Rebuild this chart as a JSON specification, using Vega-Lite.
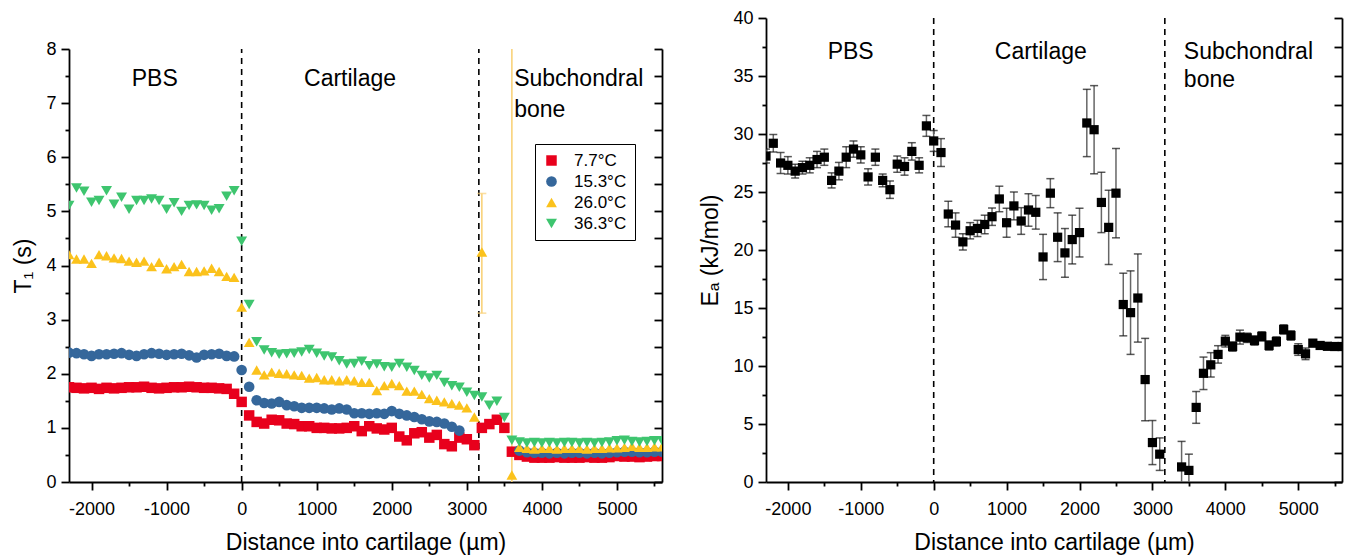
{
  "$schema": "https://vega.github.io/schema/vega-lite/v6.json",
  "background": "white",
  "padding": {"left": 12, "top": 9, "right": 5, "bottom": 5},
  "spacing": 36,
  "config": {
    "font": "Liberation Sans",
    "view": {"stroke": null},
    "axis": {"domainColor": "#000", "domainWidth": 1.8, "tickColor": "#000", "tickWidth": 1.8, "labelColor": "#000", "labelFontSize": 18, "titleFontSize": 23, "titleFontWeight": "normal", "titleColor": "#000", "grid": false, "labelOverlap": false, "labelFlush": false},
    "text": {"font": "Liberation Sans"}
  },
  "datasets": {
    "t1": [
      {"x":-2300,"s":"7.7°C","T1":1.75},{"x":-2200,"s":"7.7°C","T1":1.74},{"x":-2100,"s":"7.7°C","T1":1.73},{"x":-2000,"s":"7.7°C","T1":1.74},{"x":-1900,"s":"7.7°C","T1":1.72},{"x":-1800,"s":"7.7°C","T1":1.74},{"x":-1700,"s":"7.7°C","T1":1.73},{"x":-1600,"s":"7.7°C","T1":1.74},{"x":-1500,"s":"7.7°C","T1":1.75},{"x":-1400,"s":"7.7°C","T1":1.75},{"x":-1300,"s":"7.7°C","T1":1.76},{"x":-1200,"s":"7.7°C","T1":1.74},{"x":-1100,"s":"7.7°C","T1":1.73},{"x":-1000,"s":"7.7°C","T1":1.74},{"x":-900,"s":"7.7°C","T1":1.75},{"x":-800,"s":"7.7°C","T1":1.75},{"x":-700,"s":"7.7°C","T1":1.76},{"x":-600,"s":"7.7°C","T1":1.75},{"x":-500,"s":"7.7°C","T1":1.74},{"x":-400,"s":"7.7°C","T1":1.74},{"x":-300,"s":"7.7°C","T1":1.73},{"x":-200,"s":"7.7°C","T1":1.72},{"x":-100,"s":"7.7°C","T1":1.63},
      {"x":0,"s":"7.7°C","T1":1.48},{"x":100,"s":"7.7°C","T1":1.23},{"x":200,"s":"7.7°C","T1":1.11},{"x":300,"s":"7.7°C","T1":1.08},{"x":400,"s":"7.7°C","T1":1.15},{"x":500,"s":"7.7°C","T1":1.14},{"x":600,"s":"7.7°C","T1":1.08},{"x":700,"s":"7.7°C","T1":1.07},{"x":800,"s":"7.7°C","T1":1.03},{"x":900,"s":"7.7°C","T1":1.03},{"x":1000,"s":"7.7°C","T1":1.0},{"x":1100,"s":"7.7°C","T1":1.0},{"x":1200,"s":"7.7°C","T1":0.99},{"x":1300,"s":"7.7°C","T1":0.99},{"x":1400,"s":"7.7°C","T1":1.0},{"x":1500,"s":"7.7°C","T1":1.03},{"x":1600,"s":"7.7°C","T1":0.94},{"x":1700,"s":"7.7°C","T1":1.03},{"x":1800,"s":"7.7°C","T1":0.99},{"x":1900,"s":"7.7°C","T1":0.97},{"x":2000,"s":"7.7°C","T1":1.0},{"x":2100,"s":"7.7°C","T1":0.84},{"x":2200,"s":"7.7°C","T1":0.77},{"x":2300,"s":"7.7°C","T1":0.9},{"x":2400,"s":"7.7°C","T1":0.92},{"x":2500,"s":"7.7°C","T1":0.82},{"x":2600,"s":"7.7°C","T1":0.87},{"x":2700,"s":"7.7°C","T1":0.7},{"x":2800,"s":"7.7°C","T1":0.66},{"x":2900,"s":"7.7°C","T1":0.82},{"x":3000,"s":"7.7°C","T1":0.79},{"x":3100,"s":"7.7°C","T1":0.68},{"x":3200,"s":"7.7°C","T1":1.0},{"x":3300,"s":"7.7°C","T1":1.07},{"x":3400,"s":"7.7°C","T1":1.15},{"x":3500,"s":"7.7°C","T1":1.0},{"x":3600,"s":"7.7°C","T1":0.56},
      {"x":3700,"s":"7.7°C","T1":0.5},{"x":3800,"s":"7.7°C","T1":0.47},{"x":3900,"s":"7.7°C","T1":0.45},{"x":4000,"s":"7.7°C","T1":0.45},{"x":4100,"s":"7.7°C","T1":0.45},{"x":4200,"s":"7.7°C","T1":0.46},{"x":4300,"s":"7.7°C","T1":0.45},{"x":4400,"s":"7.7°C","T1":0.45},{"x":4500,"s":"7.7°C","T1":0.45},{"x":4600,"s":"7.7°C","T1":0.46},{"x":4700,"s":"7.7°C","T1":0.45},{"x":4800,"s":"7.7°C","T1":0.45},{"x":4900,"s":"7.7°C","T1":0.46},{"x":5000,"s":"7.7°C","T1":0.48},{"x":5100,"s":"7.7°C","T1":0.47},{"x":5200,"s":"7.7°C","T1":0.47},{"x":5300,"s":"7.7°C","T1":0.46},{"x":5400,"s":"7.7°C","T1":0.47},{"x":5500,"s":"7.7°C","T1":0.48},{"x":5600,"s":"7.7°C","T1":0.48},

      {"x":-2300,"s":"15.3°C","T1":2.39},{"x":-2200,"s":"15.3°C","T1":2.38},{"x":-2100,"s":"15.3°C","T1":2.36},{"x":-2000,"s":"15.3°C","T1":2.33},{"x":-1900,"s":"15.3°C","T1":2.36},{"x":-1800,"s":"15.3°C","T1":2.36},{"x":-1700,"s":"15.3°C","T1":2.37},{"x":-1600,"s":"15.3°C","T1":2.38},{"x":-1500,"s":"15.3°C","T1":2.35},{"x":-1400,"s":"15.3°C","T1":2.33},{"x":-1300,"s":"15.3°C","T1":2.36},{"x":-1200,"s":"15.3°C","T1":2.38},{"x":-1100,"s":"15.3°C","T1":2.37},{"x":-1000,"s":"15.3°C","T1":2.35},{"x":-900,"s":"15.3°C","T1":2.36},{"x":-800,"s":"15.3°C","T1":2.37},{"x":-700,"s":"15.3°C","T1":2.34},{"x":-600,"s":"15.3°C","T1":2.3},{"x":-500,"s":"15.3°C","T1":2.35},{"x":-400,"s":"15.3°C","T1":2.36},{"x":-300,"s":"15.3°C","T1":2.37},{"x":-200,"s":"15.3°C","T1":2.33},{"x":-100,"s":"15.3°C","T1":2.32},
      {"x":0,"s":"15.3°C","T1":2.07},{"x":100,"s":"15.3°C","T1":1.76},{"x":200,"s":"15.3°C","T1":1.51},{"x":300,"s":"15.3°C","T1":1.46},{"x":400,"s":"15.3°C","T1":1.45},{"x":500,"s":"15.3°C","T1":1.48},{"x":600,"s":"15.3°C","T1":1.42},{"x":700,"s":"15.3°C","T1":1.4},{"x":800,"s":"15.3°C","T1":1.37},{"x":900,"s":"15.3°C","T1":1.37},{"x":1000,"s":"15.3°C","T1":1.37},{"x":1100,"s":"15.3°C","T1":1.36},{"x":1200,"s":"15.3°C","T1":1.34},{"x":1300,"s":"15.3°C","T1":1.36},{"x":1400,"s":"15.3°C","T1":1.34},{"x":1500,"s":"15.3°C","T1":1.27},{"x":1600,"s":"15.3°C","T1":1.27},{"x":1700,"s":"15.3°C","T1":1.26},{"x":1800,"s":"15.3°C","T1":1.27},{"x":1900,"s":"15.3°C","T1":1.26},{"x":2000,"s":"15.3°C","T1":1.31},{"x":2100,"s":"15.3°C","T1":1.26},{"x":2200,"s":"15.3°C","T1":1.23},{"x":2300,"s":"15.3°C","T1":1.2},{"x":2400,"s":"15.3°C","T1":1.16},{"x":2500,"s":"15.3°C","T1":1.12},{"x":2600,"s":"15.3°C","T1":1.11},{"x":2700,"s":"15.3°C","T1":1.08},{"x":2800,"s":"15.3°C","T1":1.02},{"x":2900,"s":"15.3°C","T1":0.95},
      {"x":3700,"s":"15.3°C","T1":0.58},{"x":3800,"s":"15.3°C","T1":0.55},{"x":3900,"s":"15.3°C","T1":0.54},{"x":4000,"s":"15.3°C","T1":0.54},{"x":4100,"s":"15.3°C","T1":0.53},{"x":4200,"s":"15.3°C","T1":0.54},{"x":4300,"s":"15.3°C","T1":0.53},{"x":4400,"s":"15.3°C","T1":0.54},{"x":4500,"s":"15.3°C","T1":0.54},{"x":4600,"s":"15.3°C","T1":0.53},{"x":4700,"s":"15.3°C","T1":0.54},{"x":4800,"s":"15.3°C","T1":0.53},{"x":4900,"s":"15.3°C","T1":0.54},{"x":5000,"s":"15.3°C","T1":0.55},{"x":5100,"s":"15.3°C","T1":0.56},{"x":5200,"s":"15.3°C","T1":0.56},{"x":5300,"s":"15.3°C","T1":0.55},{"x":5400,"s":"15.3°C","T1":0.55},{"x":5500,"s":"15.3°C","T1":0.56},{"x":5600,"s":"15.3°C","T1":0.56},

      {"x":-2300,"s":"26.0°C","T1":4.2},{"x":-2200,"s":"26.0°C","T1":4.12},{"x":-2100,"s":"26.0°C","T1":4.12},{"x":-2000,"s":"26.0°C","T1":4.04},{"x":-1900,"s":"26.0°C","T1":4.2},{"x":-1800,"s":"26.0°C","T1":4.18},{"x":-1700,"s":"26.0°C","T1":4.14},{"x":-1600,"s":"26.0°C","T1":4.13},{"x":-1500,"s":"26.0°C","T1":4.08},{"x":-1400,"s":"26.0°C","T1":4.06},{"x":-1300,"s":"26.0°C","T1":4.08},{"x":-1200,"s":"26.0°C","T1":3.98},{"x":-1100,"s":"26.0°C","T1":4.06},{"x":-1000,"s":"26.0°C","T1":3.94},{"x":-900,"s":"26.0°C","T1":3.98},{"x":-800,"s":"26.0°C","T1":4.02},{"x":-700,"s":"26.0°C","T1":3.89},{"x":-600,"s":"26.0°C","T1":3.89},{"x":-500,"s":"26.0°C","T1":3.9},{"x":-400,"s":"26.0°C","T1":3.95},{"x":-300,"s":"26.0°C","T1":3.89},{"x":-200,"s":"26.0°C","T1":3.8},{"x":-100,"s":"26.0°C","T1":3.78},
      {"x":0,"s":"26.0°C","T1":3.23},{"x":100,"s":"26.0°C","T1":2.58},{"x":200,"s":"26.0°C","T1":2.07},{"x":300,"s":"26.0°C","T1":1.98},{"x":400,"s":"26.0°C","T1":2.03},{"x":500,"s":"26.0°C","T1":2.01},{"x":600,"s":"26.0°C","T1":2.0},{"x":700,"s":"26.0°C","T1":1.98},{"x":800,"s":"26.0°C","T1":1.97},{"x":900,"s":"26.0°C","T1":1.92},{"x":1000,"s":"26.0°C","T1":1.93},{"x":1100,"s":"26.0°C","T1":1.89},{"x":1200,"s":"26.0°C","T1":1.89},{"x":1300,"s":"26.0°C","T1":1.87},{"x":1400,"s":"26.0°C","T1":1.89},{"x":1500,"s":"26.0°C","T1":1.87},{"x":1600,"s":"26.0°C","T1":1.84},{"x":1700,"s":"26.0°C","T1":1.84},{"x":1800,"s":"26.0°C","T1":1.69},{"x":1900,"s":"26.0°C","T1":1.78},{"x":2000,"s":"26.0°C","T1":1.82},{"x":2100,"s":"26.0°C","T1":1.78},{"x":2200,"s":"26.0°C","T1":1.68},{"x":2300,"s":"26.0°C","T1":1.68},{"x":2400,"s":"26.0°C","T1":1.62},{"x":2500,"s":"26.0°C","T1":1.54},{"x":2600,"s":"26.0°C","T1":1.51},{"x":2700,"s":"26.0°C","T1":1.48},{"x":2800,"s":"26.0°C","T1":1.45},{"x":2900,"s":"26.0°C","T1":1.42},{"x":3000,"s":"26.0°C","T1":1.37},{"x":3100,"s":"26.0°C","T1":1.2},{"x":3200,"s":"26.0°C","T1":4.25},{"x":3600,"s":"26.0°C","T1":0.13},
      {"x":3700,"s":"26.0°C","T1":0.64},{"x":3800,"s":"26.0°C","T1":0.62},{"x":3900,"s":"26.0°C","T1":0.61},{"x":4000,"s":"26.0°C","T1":0.62},{"x":4100,"s":"26.0°C","T1":0.62},{"x":4200,"s":"26.0°C","T1":0.61},{"x":4300,"s":"26.0°C","T1":0.62},{"x":4400,"s":"26.0°C","T1":0.62},{"x":4500,"s":"26.0°C","T1":0.62},{"x":4600,"s":"26.0°C","T1":0.61},{"x":4700,"s":"26.0°C","T1":0.62},{"x":4800,"s":"26.0°C","T1":0.62},{"x":4900,"s":"26.0°C","T1":0.63},{"x":5000,"s":"26.0°C","T1":0.63},{"x":5100,"s":"26.0°C","T1":0.64},{"x":5200,"s":"26.0°C","T1":0.66},{"x":5300,"s":"26.0°C","T1":0.64},{"x":5400,"s":"26.0°C","T1":0.64},{"x":5500,"s":"26.0°C","T1":0.65},{"x":5600,"s":"26.0°C","T1":0.65},

      {"x":-2300,"s":"36.3°C","T1":5.11},{"x":-2200,"s":"36.3°C","T1":5.43},{"x":-2100,"s":"36.3°C","T1":5.37},{"x":-2000,"s":"36.3°C","T1":5.17},{"x":-1900,"s":"36.3°C","T1":5.2},{"x":-1800,"s":"36.3°C","T1":5.38},{"x":-1700,"s":"36.3°C","T1":5.13},{"x":-1600,"s":"36.3°C","T1":5.26},{"x":-1500,"s":"36.3°C","T1":5.04},{"x":-1400,"s":"36.3°C","T1":5.2},{"x":-1300,"s":"36.3°C","T1":5.2},{"x":-1200,"s":"36.3°C","T1":5.23},{"x":-1100,"s":"36.3°C","T1":5.2},{"x":-1000,"s":"36.3°C","T1":5.04},{"x":-900,"s":"36.3°C","T1":5.16},{"x":-800,"s":"36.3°C","T1":5.0},{"x":-700,"s":"36.3°C","T1":5.11},{"x":-600,"s":"36.3°C","T1":5.12},{"x":-500,"s":"36.3°C","T1":5.11},{"x":-400,"s":"36.3°C","T1":5.02},{"x":-300,"s":"36.3°C","T1":5.05},{"x":-200,"s":"36.3°C","T1":5.28},{"x":-100,"s":"36.3°C","T1":5.38},
      {"x":0,"s":"36.3°C","T1":4.45},{"x":100,"s":"36.3°C","T1":3.28},{"x":200,"s":"36.3°C","T1":2.59},{"x":300,"s":"36.3°C","T1":2.44},{"x":400,"s":"36.3°C","T1":2.39},{"x":500,"s":"36.3°C","T1":2.36},{"x":600,"s":"36.3°C","T1":2.37},{"x":700,"s":"36.3°C","T1":2.38},{"x":800,"s":"36.3°C","T1":2.4},{"x":900,"s":"36.3°C","T1":2.45},{"x":1000,"s":"36.3°C","T1":2.38},{"x":1100,"s":"36.3°C","T1":2.33},{"x":1200,"s":"36.3°C","T1":2.31},{"x":1300,"s":"36.3°C","T1":2.24},{"x":1400,"s":"36.3°C","T1":2.18},{"x":1500,"s":"36.3°C","T1":2.19},{"x":1600,"s":"36.3°C","T1":2.23},{"x":1700,"s":"36.3°C","T1":2.15},{"x":1800,"s":"36.3°C","T1":2.18},{"x":1900,"s":"36.3°C","T1":2.13},{"x":2000,"s":"36.3°C","T1":2.12},{"x":2100,"s":"36.3°C","T1":2.19},{"x":2200,"s":"36.3°C","T1":2.12},{"x":2300,"s":"36.3°C","T1":2.06},{"x":2400,"s":"36.3°C","T1":1.97},{"x":2500,"s":"36.3°C","T1":1.92},{"x":2600,"s":"36.3°C","T1":1.97},{"x":2700,"s":"36.3°C","T1":1.84},{"x":2800,"s":"36.3°C","T1":1.78},{"x":2900,"s":"36.3°C","T1":1.75},{"x":3000,"s":"36.3°C","T1":1.66},{"x":3100,"s":"36.3°C","T1":1.6},{"x":3200,"s":"36.3°C","T1":1.57},{"x":3300,"s":"36.3°C","T1":1.42},{"x":3400,"s":"36.3°C","T1":1.49},{"x":3500,"s":"36.3°C","T1":1.19},{"x":3600,"s":"36.3°C","T1":0.77},
      {"x":3700,"s":"36.3°C","T1":0.74},{"x":3800,"s":"36.3°C","T1":0.72},{"x":3900,"s":"36.3°C","T1":0.73},{"x":4000,"s":"36.3°C","T1":0.72},{"x":4100,"s":"36.3°C","T1":0.73},{"x":4200,"s":"36.3°C","T1":0.72},{"x":4300,"s":"36.3°C","T1":0.73},{"x":4400,"s":"36.3°C","T1":0.73},{"x":4500,"s":"36.3°C","T1":0.72},{"x":4600,"s":"36.3°C","T1":0.73},{"x":4700,"s":"36.3°C","T1":0.72},{"x":4800,"s":"36.3°C","T1":0.73},{"x":4900,"s":"36.3°C","T1":0.74},{"x":5000,"s":"36.3°C","T1":0.76},{"x":5100,"s":"36.3°C","T1":0.77},{"x":5200,"s":"36.3°C","T1":0.75},{"x":5300,"s":"36.3°C","T1":0.74},{"x":5400,"s":"36.3°C","T1":0.75},{"x":5500,"s":"36.3°C","T1":0.76},{"x":5600,"s":"36.3°C","T1":0.76}
    ],
    "yerr": [{"x":3200,"lo":3.12,"hi":5.33},{"x":3600,"lo":0,"hi":8}],
    "ycap": [{"x":3200,"y":3.12},{"x":3200,"y":5.33}],
    "bounds1": [{"x":0},{"x":3160}],
    "bounds2": [{"x":0},{"x":3170}],
    "lab1c": [{"x":-1157,"y":7.45,"label":"PBS"},{"x":1444,"y":7.45,"label":"Cartilage"}],
    "lab1l": [{"x":3630,"y":7.45,"label":"Subchondral"},{"x":3630,"y":6.88,"label":"bone"}],
    "lab2c": [{"x":-1139,"y":37.1,"label":"PBS"},{"x":1469,"y":37.1,"label":"Cartilage"}],
    "lab2l": [{"x":3431,"y":37.1,"label":"Subchondral"},{"x":3431,"y":34.65,"label":"bone"}],
    "ea": [
      {"x":-2300,"E":28.1,"lo":27.5,"hi":28.7},{"x":-2200,"E":29.2,"lo":28.45,"hi":29.95},{"x":-2100,"E":27.5,"lo":26.6,"hi":28.4},{"x":-2000,"E":27.3,"lo":26.55,"hi":28.05},{"x":-1900,"E":26.8,"lo":26.2,"hi":27.4},{"x":-1800,"E":27.1,"lo":26.55,"hi":27.65},{"x":-1700,"E":27.3,"lo":26.65,"hi":27.95},{"x":-1600,"E":27.8,"lo":27.1,"hi":28.5},{"x":-1500,"E":28.0,"lo":27.3,"hi":28.7},{"x":-1400,"E":26.0,"lo":25.35,"hi":26.65},{"x":-1300,"E":26.8,"lo":26.05,"hi":27.55},{"x":-1200,"E":28.0,"lo":27.1,"hi":28.9},{"x":-1100,"E":28.7,"lo":28.0,"hi":29.4},{"x":-1000,"E":28.2,"lo":27.5,"hi":28.9},{"x":-900,"E":26.3,"lo":25.6,"hi":27.0},{"x":-800,"E":28.0,"lo":27.3,"hi":28.7},{"x":-700,"E":26.0,"lo":25.45,"hi":26.55},{"x":-600,"E":25.2,"lo":24.45,"hi":25.95},{"x":-500,"E":27.4,"lo":26.7,"hi":28.1},{"x":-400,"E":27.2,"lo":26.45,"hi":27.95},{"x":-300,"E":28.5,"lo":27.75,"hi":29.25},{"x":-200,"E":27.3,"lo":26.65,"hi":27.95},{"x":-100,"E":30.7,"lo":29.8,"hi":31.6},
      {"x":0,"E":29.4,"lo":28.5,"hi":30.3},{"x":100,"E":28.4,"lo":27.2,"hi":29.6},{"x":200,"E":23.1,"lo":22.0,"hi":24.2},{"x":300,"E":22.15,"lo":21.1,"hi":23.2},{"x":400,"E":20.7,"lo":20.0,"hi":21.4},{"x":500,"E":21.66,"lo":20.96,"hi":22.36},{"x":600,"E":21.86,"lo":21.16,"hi":22.56},{"x":700,"E":22.2,"lo":21.4,"hi":23.0},{"x":800,"E":22.87,"lo":22.12,"hi":23.62},{"x":900,"E":24.4,"lo":23.3,"hi":25.5},{"x":1000,"E":22.35,"lo":21.1,"hi":23.6},{"x":1100,"E":23.8,"lo":22.6,"hi":25.0},{"x":1200,"E":22.5,"lo":21.35,"hi":23.65},{"x":1300,"E":23.45,"lo":22.05,"hi":24.85},{"x":1400,"E":23.25,"lo":21.8,"hi":24.7},{"x":1500,"E":19.4,"lo":17.45,"hi":21.35},{"x":1600,"E":24.9,"lo":23.65,"hi":26.15},{"x":1700,"E":21.1,"lo":19.0,"hi":23.2},{"x":1800,"E":19.75,"lo":17.65,"hi":21.85},{"x":1900,"E":20.9,"lo":18.8,"hi":23.0},{"x":2000,"E":21.5,"lo":19.4,"hi":23.6},{"x":2100,"E":30.95,"lo":28.05,"hi":33.85},{"x":2200,"E":30.37,"lo":26.57,"hi":34.17},{"x":2300,"E":24.1,"lo":21.5,"hi":26.7},{"x":2400,"E":21.95,"lo":18.75,"hi":25.15},{"x":2500,"E":24.9,"lo":21.05,"hi":28.75},{"x":2600,"E":15.3,"lo":12.6,"hi":18.0},{"x":2700,"E":14.6,"lo":11.0,"hi":18.2},{"x":2800,"E":15.86,"lo":12.06,"hi":19.66},{"x":2900,"E":8.83,"lo":5.28,"hi":12.38},{"x":3000,"E":3.4,"lo":1.5,"hi":5.3},{"x":3100,"E":2.4,"lo":1.0,"hi":3.8},
      {"x":3400,"E":1.3,"lo":-0.9,"hi":3.5},{"x":3500,"E":1.0,"lo":-0.4,"hi":2.4},{"x":3600,"E":6.43,"lo":5.06,"hi":7.8},{"x":3700,"E":9.37,"lo":7.97,"hi":10.77},{"x":3800,"E":10.1,"lo":9.05,"hi":11.15},{"x":3900,"E":11.0,"lo":10.25,"hi":11.75},{"x":4000,"E":12.14,"lo":11.64,"hi":12.64},{"x":4100,"E":11.68,"lo":11.28,"hi":12.08},{"x":4200,"E":12.49,"lo":11.89,"hi":13.09},{"x":4300,"E":12.43,"lo":12.03,"hi":12.83},{"x":4400,"E":12.2,"lo":11.8,"hi":12.6},{"x":4500,"E":12.55,"lo":12.15,"hi":12.95},{"x":4600,"E":11.77,"lo":11.37,"hi":12.17},{"x":4700,"E":12.11,"lo":11.71,"hi":12.51},{"x":4800,"E":13.15,"lo":12.75,"hi":13.55},{"x":4900,"E":12.63,"lo":12.23,"hi":13.03},{"x":5000,"E":11.42,"lo":10.92,"hi":11.92},{"x":5100,"E":11.05,"lo":10.55,"hi":11.55},{"x":5200,"E":11.97,"lo":11.67,"hi":12.27},{"x":5300,"E":11.77,"lo":11.47,"hi":12.07},{"x":5400,"E":11.7,"lo":11.4,"hi":12.0},{"x":5500,"E":11.68,"lo":11.38,"hi":11.98},{"x":5600,"E":11.68,"lo":11.38,"hi":11.98}
    ]
  },
  "hconcat": [
    {
      "width": 593,
      "height": 464,
      "resolve": {"axis": {"x": "independent", "y": "independent"}},
      "layer": [
        {
          "data": {"name": "bounds1"},
          "mark": {"type": "rule", "color": "#000", "strokeWidth": 1.6, "strokeDash": [6, 5]},
          "encoding": {
            "x": {"field": "x", "type": "quantitative", "scale": {"domain": [-2300, 5600], "nice": false, "zero": false}, "axis": null},
            "y": {"datum": 0, "type": "quantitative", "scale": {"domain": [0, 8], "nice": false, "range": [464, 31]}, "axis": null},
            "y2": {"datum": 8}
          }
        },
        {
          "data": {"name": "yerr"},
          "mark": {"type": "rule", "color": "#f9d27a", "strokeWidth": 1.6, "clip": true},
          "encoding": {
            "x": {"field": "x", "type": "quantitative", "scale": {"domain": [-2300, 5600], "nice": false, "zero": false}, "axis": null},
            "y": {"field": "lo", "type": "quantitative", "scale": {"domain": [0, 8], "nice": false, "range": [464, 31]}, "axis": null},
            "y2": {"field": "hi"}
          }
        },
        {
          "data": {"name": "ycap"},
          "mark": {"type": "tick", "orient": "horizontal", "size": 9, "thickness": 1.6, "color": "#f9d27a"},
          "encoding": {
            "x": {"field": "x", "type": "quantitative", "scale": {"domain": [-2300, 5600], "nice": false, "zero": false}, "axis": null},
            "y": {"field": "y", "type": "quantitative", "scale": {"domain": [0, 8], "nice": false, "range": [464, 31]}, "axis": null}
          }
        },
        {
          "data": {"name": "t1"},
          "mark": {"type": "point", "filled": true, "opacity": 1, "clip": true},
          "encoding": {
            "x": {"field": "x", "type": "quantitative", "scale": {"domain": [-2300, 5600], "nice": false, "zero": false},
              "axis": {"title": "Distance into cartilage (µm)", "values": [-2000,-1500,-1000,-500,0,500,1000,1500,2000,2500,3000,3500,4000,4500,5000,5500],
                "labelExpr": "datum.value % 1000 === 0 ? '' + datum.value : ''",
                "tickSize": {"condition": {"test": "datum.value % 1000 === 0", "value": 8}, "value": 4},
                "labelPadding": 10, "titlePadding": 13}},
            "y": {"field": "T1", "type": "quantitative", "scale": {"domain": [0, 8], "nice": false, "range": [464, 31]},
              "axis": {"title": "T₁ (s)", "values": [0,0.5,1,1.5,2,2.5,3,3.5,4,4.5,5,5.5,6,6.5,7,7.5,8],
                "labelExpr": "datum.value % 1 === 0 ? '' + datum.value : ''",
                "tickSize": {"condition": {"test": "datum.value % 1 === 0", "value": 8}, "value": 4},
                "labelPadding": 5, "titlePadding": 10}},
            "color": {"field": "s", "type": "nominal",
              "scale": {"domain": ["7.7°C", "15.3°C", "26.0°C", "36.3°C"], "range": ["#e8001c", "#35679b", "#fbc21c", "#3ec56f"]},
              "legend": {"title": null, "orient": "none", "legendX": 466, "legendY": 126, "strokeColor": "#000", "padding": 8, "labelFontSize": 17, "labelColor": "#000", "rowPadding": 3, "labelOffset": 14, "symbolSize": 110, "symbolOpacity": 1}},
            "shape": {"field": "s", "type": "nominal",
              "scale": {"domain": ["7.7°C", "15.3°C", "26.0°C", "36.3°C"], "range": ["square", "circle", "triangle-up", "triangle-down"]}},
            "size": {"field": "s", "type": "nominal",
              "scale": {"domain": ["7.7°C", "15.3°C", "26.0°C", "36.3°C"], "range": [110, 120, 150, 150]}, "legend": null}
          }
        },
        {
          "data": {"name": "lab1c"},
          "mark": {"type": "text", "fontSize": 23, "color": "#000", "align": "center", "baseline": "middle"},
          "encoding": {
            "x": {"field": "x", "type": "quantitative", "scale": {"domain": [-2300, 5600], "nice": false, "zero": false}, "axis": null},
            "y": {"field": "y", "type": "quantitative", "scale": {"domain": [0, 8], "nice": false, "range": [464, 31]}, "axis": null},
            "text": {"field": "label"}
          }
        },
        {
          "data": {"name": "lab1l"},
          "mark": {"type": "text", "fontSize": 23, "color": "#000", "align": "left", "baseline": "middle"},
          "encoding": {
            "x": {"field": "x", "type": "quantitative", "scale": {"domain": [-2300, 5600], "nice": false, "zero": false}, "axis": null},
            "y": {"field": "y", "type": "quantitative", "scale": {"domain": [0, 8], "nice": false, "range": [464, 31]}, "axis": null},
            "text": {"field": "label"}
          }
        },
        {
          "data": {"name": "ycap"},
          "mark": {"type": "point", "opacity": 0},
          "encoding": {
            "x": {"field": "x", "type": "quantitative", "scale": {"domain": [-2300, 5600], "nice": false, "zero": false}, "axis": null},
            "y": {"field": "y", "type": "quantitative", "scale": {"domain": [0, 8], "nice": false, "range": [464, 31]},
              "axis": {"orient": "right", "title": null, "labels": false, "tickSize": -8, "values": [0,0.5,1,1.5,2,2.5,3,3.5,4,4.5,5,5.5,6,6.5,7,7.5,8]}}
          }
        }
      ]
    },
    {
      "width": 576,
      "height": 464,
      "resolve": {"axis": {"x": "independent", "y": "independent"}},
      "layer": [
        {
          "data": {"name": "bounds2"},
          "mark": {"type": "rule", "color": "#000", "strokeWidth": 1.6, "strokeDash": [6, 5]},
          "encoding": {"x": {"field": "x", "type": "quantitative", "scale": {"domain": [-2300, 5600], "nice": false, "zero": false}, "axis": null}}
        },
        {
          "data": {"name": "ea"},
          "mark": {"type": "rule", "color": "#666", "strokeWidth": 1.5, "clip": true},
          "encoding": {
            "x": {"field": "x", "type": "quantitative", "scale": {"domain": [-2300, 5600], "nice": false, "zero": false}, "axis": null},
            "y": {"field": "lo", "type": "quantitative", "scale": {"domain": [0, 40], "nice": false}, "axis": null},
            "y2": {"field": "hi"}
          }
        },
        {
          "data": {"name": "ea"},
          "mark": {"type": "tick", "orient": "horizontal", "size": 8, "thickness": 1.5, "color": "#111", "clip": true},
          "encoding": {
            "x": {"field": "x", "type": "quantitative", "scale": {"domain": [-2300, 5600], "nice": false, "zero": false}, "axis": null},
            "y": {"field": "lo", "type": "quantitative", "scale": {"domain": [0, 40], "nice": false}, "axis": null}
          }
        },
        {
          "data": {"name": "ea"},
          "mark": {"type": "tick", "orient": "horizontal", "size": 8, "thickness": 1.5, "color": "#111", "clip": true},
          "encoding": {
            "x": {"field": "x", "type": "quantitative", "scale": {"domain": [-2300, 5600], "nice": false, "zero": false}, "axis": null},
            "y": {"field": "hi", "type": "quantitative", "scale": {"domain": [0, 40], "nice": false}, "axis": null}
          }
        },
        {
          "data": {"name": "ea"},
          "mark": {"type": "square", "size": 85, "color": "#000", "opacity": 1, "clip": true},
          "encoding": {
            "x": {"field": "x", "type": "quantitative", "scale": {"domain": [-2300, 5600], "nice": false, "zero": false},
              "axis": {"title": "Distance into cartilage (µm)", "values": [-2000,-1500,-1000,-500,0,500,1000,1500,2000,2500,3000,3500,4000,4500,5000,5500],
                "labelExpr": "datum.value % 1000 === 0 ? '' + datum.value : ''",
                "tickSize": {"condition": {"test": "datum.value % 1000 === 0", "value": 8}, "value": 4},
                "labelPadding": 10, "titlePadding": 13}},
            "y": {"field": "E", "type": "quantitative", "scale": {"domain": [0, 40], "nice": false},
              "axis": {"title": "Eₐ (kJ/mol)", "values": [0,2.5,5,7.5,10,12.5,15,17.5,20,22.5,25,27.5,30,32.5,35,37.5,40],
                "labelExpr": "datum.value % 5 === 0 ? '' + datum.value : ''",
                "tickSize": {"condition": {"test": "datum.value % 5 === 0", "value": 8}, "value": 4},
                "labelPadding": 5, "titlePadding": 10}}
          }
        },
        {
          "data": {"name": "lab2c"},
          "mark": {"type": "text", "fontSize": 23, "color": "#000", "align": "center", "baseline": "middle"},
          "encoding": {
            "x": {"field": "x", "type": "quantitative", "scale": {"domain": [-2300, 5600], "nice": false, "zero": false}, "axis": null},
            "y": {"field": "y", "type": "quantitative", "scale": {"domain": [0, 40], "nice": false}, "axis": null},
            "text": {"field": "label"}
          }
        },
        {
          "data": {"name": "lab2l"},
          "mark": {"type": "text", "fontSize": 23, "color": "#000", "align": "left", "baseline": "middle"},
          "encoding": {
            "x": {"field": "x", "type": "quantitative", "scale": {"domain": [-2300, 5600], "nice": false, "zero": false}, "axis": null},
            "y": {"field": "y", "type": "quantitative", "scale": {"domain": [0, 40], "nice": false}, "axis": null},
            "text": {"field": "label"}
          }
        },
        {
          "data": {"name": "lab2l"},
          "mark": {"type": "point", "opacity": 0},
          "encoding": {
            "x": {"field": "x", "type": "quantitative", "scale": {"domain": [-2300, 5600], "nice": false, "zero": false}, "axis": null},
            "y": {"field": "y", "type": "quantitative", "scale": {"domain": [0, 40], "nice": false},
              "axis": {"orient": "right", "title": null, "labels": false, "tickSize": -8, "values": [0,2.5,5,7.5,10,12.5,15,17.5,20,22.5,25,27.5,30,32.5,35,37.5,40]}}
          }
        }
      ]
    }
  ]
}
